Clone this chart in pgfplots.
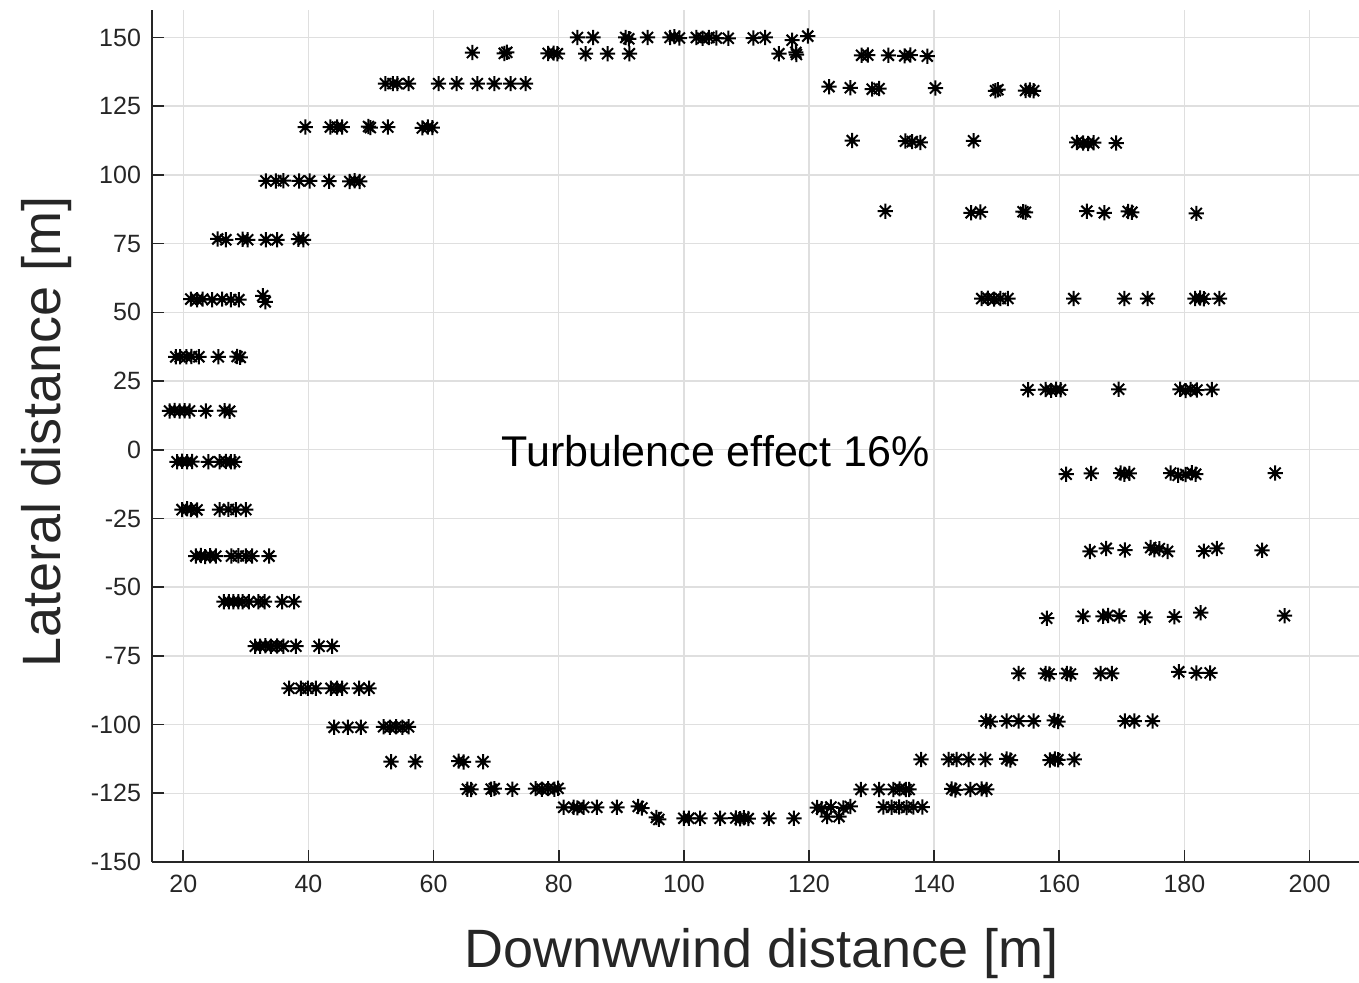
\documentclass[border=0pt]{standalone}
\usepackage{pgfplots}
\pgfplotsset{compat=1.18}
\usepackage{fontspec}
\setmainfont{Liberation Sans}
\definecolor{axc}{RGB}{38,38,38}
\definecolor{gridc}{RGB}{223,223,223}
\pgfdeclareplotmark{mast}{%
  \pgfpathmoveto{\pgfqpoint{-\pgfplotmarksize}{0pt}}\pgfpathlineto{\pgfqpoint{\pgfplotmarksize}{0pt}}%
  \pgfpathmoveto{\pgfqpoint{0pt}{-\pgfplotmarksize}}\pgfpathlineto{\pgfqpoint{0pt}{\pgfplotmarksize}}%
  \pgfpathmoveto{\pgfqpoint{-0.72\pgfplotmarksize}{-0.72\pgfplotmarksize}}\pgfpathlineto{\pgfqpoint{0.72\pgfplotmarksize}{0.72\pgfplotmarksize}}%
  \pgfpathmoveto{\pgfqpoint{-0.72\pgfplotmarksize}{0.72\pgfplotmarksize}}\pgfpathlineto{\pgfqpoint{0.72\pgfplotmarksize}{-0.72\pgfplotmarksize}}%
  \pgfusepathqstroke}
\begin{document}
\begin{tikzpicture}
\begin{axis}[
  scale only axis, width=603.5pt, height=426pt,
  at={(0,0)}, anchor=south west,
  xmin=15, xmax=207.9, ymin=-150, ymax=160,
  axis lines*=left,
  axis line style={color=axc, line width=0.8pt},
  tick align=inside, major tick length=6pt,
  tick style={color=axc, line width=0.8pt},
  xtick={20,40,...,200}, ytick={-150,-125,...,150},
  grid=major, major grid style={color=gridc, line width=0.7pt},
  /pgf/number format/assume math mode=true,
  ticklabel style={font=\fontsize{12.5}{15}\selectfont, color=axc},
  xticklabel style={yshift=-3pt},
  yticklabel style={xshift=-2pt},
  xlabel={Downwwind distance [m]},
  ylabel={Lateral distance [m]},
  label style={font=\fontsize{27}{32}\selectfont, color=axc},
  xlabel style={at={(axis description cs:0.505,-0.1244)}, anchor=base},
  ylabel style={at={(axis description cs:-0.0762,0.505)}, anchor=base, rotate=0},
  clip=false,
]
\addplot[only marks, mark=mast, mark size=3.8pt, mark options={line width=1.0pt, black}] table[row sep=\\] {
x y\\
83.0 150\\ 85.5 150\\ 90.7 150\\ 91.2 149.5\\ 94.2 150\\ 97.8 150\\ 98.5 150.3\\ 99.3 149.8\\ 102.0 150\\ 103.0 149.7\\ 104.0 150\\ 105.2 149.8\\ 107.1 149.7\\ 111.1 149.8\\ 113.0 150\\ 117.3 149\\ 119.8 150.5\\
66.2 144.5\\ 71.3 144.2\\ 71.7 144.6\\ 78.3 144.2\\ 79.2 144.3\\ 79.8 144.1\\ 84.3 144.1\\ 87.8 144.1\\ 91.3 144.1\\ 115.2 144.1\\ 117.9 144.6\\ 118.0 143.8\\
128.4 143.5\\ 129.4 143.6\\ 132.7 143.5\\ 135.3 143.3\\ 136.2 143.6\\ 138.9 143.2\\
52.3 133.2\\ 53.5 133.2\\ 54.2 133.2\\ 56.0 133.2\\ 60.8 133.2\\ 63.7 133.2\\ 67.0 133.2\\ 69.7 133.2\\ 72.3 133.2\\ 74.7 133.2\\
123.2 132.1\\ 126.6 131.7\\ 130.1 131.2\\ 131.2 131.4\\ 140.2 131.6\\ 149.8 130.6\\ 150.2 131.0\\ 154.6 130.7\\ 155.3 130.9\\ 155.9 130.6\\
39.5 117.4\\ 43.5 117.4\\ 44.6 117.4\\ 45.4 117.4\\ 49.6 117.6\\ 49.9 117.2\\ 52.7 117.4\\ 58.2 117.1\\ 59.1 117.4\\ 59.8 117.2\\
126.9 112.5\\ 135.4 112.3\\ 136.5 112.1\\ 137.8 111.8\\ 146.3 112.4\\ 162.8 111.8\\ 163.8 111.6\\ 164.6 111.4\\ 165.5 111.7\\ 169.1 111.6\\
33.2 97.8\\ 34.8 97.8\\ 36.0 97.9\\ 38.5 97.8\\ 40.2 97.8\\ 43.3 97.7\\ 46.6 97.6\\ 47.4 97.9\\ 48.2 97.6\\
132.2 86.8\\ 145.9 86.2\\ 147.4 86.5\\ 154.2 86.6\\ 154.6 86.4\\ 164.4 86.8\\ 167.2 86.2\\ 171.0 86.7\\ 171.6 86.4\\ 181.9 86.0\\
25.5 76.7\\ 26.8 76.4\\ 29.5 76.6\\ 30.3 76.4\\ 33.2 76.4\\ 35.0 76.4\\ 38.4 76.6\\ 39.2 76.4\\
21.2 54.8\\ 22.2 54.6\\ 23.1 54.8\\ 24.6 54.6\\ 26.2 54.8\\ 27.6 54.6\\ 28.9 54.6\\ 32.7 56.0\\ 33.1 53.8\\
147.6 55.0\\ 148.6 55.1\\ 149.6 54.8\\ 150.6 55.0\\ 151.8 55.0\\ 162.3 55.0\\ 170.4 55.0\\ 174.1 55.0\\ 181.7 55.0\\ 182.5 55.2\\ 183.1 54.9\\ 185.6 55.0\\
18.8 33.8\\ 19.5 33.8\\ 20.5 33.8\\ 21.3 33.9\\ 22.5 33.8\\ 25.6 33.8\\ 28.6 33.9\\ 29.1 33.6\\
155.0 21.8\\ 157.8 21.9\\ 158.7 21.6\\ 159.5 22.0\\ 160.2 21.8\\ 169.5 22.0\\ 179.3 22.0\\ 180.2 21.5\\ 181.0 21.9\\ 182.0 21.7\\ 184.4 21.9\\
17.8 14.1\\ 18.6 14.3\\ 19.4 14.1\\ 20.2 14.2\\ 21.0 14.1\\ 23.6 14.1\\ 26.6 14.2\\ 27.4 14.0\\
19.0 -4.4\\ 19.8 -4.2\\ 20.6 -4.4\\ 21.4 -4.3\\ 24.0 -4.4\\ 25.8 -4.4\\ 26.8 -4.3\\ 27.6 -4.4\\ 28.2 -4.4\\
19.8 -21.8\\ 20.6 -21.5\\ 21.2 -21.8\\ 22.2 -21.9\\ 25.8 -21.8\\ 27.2 -21.7\\ 28.4 -21.8\\ 30.0 -21.8\\
22.0 -38.7\\ 22.8 -38.5\\ 23.5 -38.9\\ 24.3 -38.6\\ 25.2 -38.7\\ 27.7 -38.7\\ 28.8 -38.6\\ 30.0 -38.7\\ 31.0 -38.7\\ 33.7 -38.7\\
161.1 -8.9\\ 165.1 -8.6\\ 169.8 -8.5\\ 170.4 -8.9\\ 171.2 -8.6\\ 177.8 -8.5\\ 179.0 -9.3\\ 180.2 -9.0\\ 181.2 -8.4\\ 181.8 -8.9\\ 194.5 -8.5\\
164.9 -37.0\\ 167.5 -35.9\\ 170.5 -36.5\\ 174.6 -35.6\\ 175.2 -36.4\\ 176.0 -36.0\\ 177.3 -37.0\\ 183.1 -36.9\\ 185.2 -35.9\\ 192.4 -36.6\\
158.0 -61.3\\ 163.8 -60.6\\ 167.0 -60.6\\ 167.8 -60.3\\ 169.6 -60.5\\ 173.7 -61.0\\ 178.4 -60.8\\ 182.6 -59.3\\ 196.0 -60.4\\
26.5 -55.3\\ 27.3 -55.3\\ 28.0 -55.3\\ 28.8 -55.3\\ 29.5 -55.3\\ 30.5 -55.3\\ 32.0 -55.3\\ 33.0 -55.3\\ 35.8 -55.3\\ 37.7 -55.3\\
31.5 -71.5\\ 32.3 -71.5\\ 33.1 -71.3\\ 34.0 -71.5\\ 35.0 -71.4\\ 36.0 -71.5\\ 38.0 -71.5\\ 41.7 -71.5\\ 43.8 -71.5\\
36.9 -86.8\\ 38.8 -86.8\\ 39.9 -86.8\\ 41.2 -86.8\\ 43.6 -86.8\\ 44.6 -86.8\\ 45.4 -86.8\\ 48.1 -86.8\\ 49.7 -86.8\\
44.1 -101.0\\ 46.3 -101.0\\ 48.4 -101.0\\ 52.0 -100.8\\ 53.0 -101.0\\ 54.0 -100.8\\ 55.0 -101.0\\ 56.0 -100.8\\
53.2 -113.5\\ 57.1 -113.5\\ 64.0 -113.3\\ 64.8 -113.6\\ 67.9 -113.5\\
65.4 -123.5\\ 66.0 -123.6\\ 69.2 -123.5\\ 69.7 -123.3\\ 72.6 -123.5\\ 76.3 -123.3\\ 77.3 -123.5\\ 78.3 -123.3\\ 79.3 -123.5\\ 79.9 -123.2\\
80.8 -130.1\\ 82.4 -130.1\\ 83.0 -130.3\\ 84.0 -130.1\\ 86.1 -130.1\\ 89.3 -130.1\\ 92.7 -129.8\\ 93.3 -130.4\\
95.6 -133.8\\ 96.0 -134.5\\ 100.0 -134.1\\ 100.8 -134.1\\ 102.6 -134.1\\ 105.8 -134.1\\ 108.3 -134.0\\ 109.0 -134.3\\ 109.6 -133.9\\ 110.3 -134.2\\ 113.6 -134.1\\ 117.6 -134.1\\
121.3 -130.2\\ 122.0 -130.6\\ 123.5 -130.0\\ 125.5 -130.3\\ 126.6 -129.8\\ 122.9 -133.5\\ 124.8 -133.5\\
131.9 -130.0\\ 133.2 -130.1\\ 134.4 -130.0\\ 135.6 -130.2\\ 136.7 -130.0\\ 138.1 -130.0\\
128.3 -123.6\\ 131.2 -123.6\\ 133.5 -123.6\\ 134.5 -123.4\\ 135.5 -123.6\\ 136.0 -123.6\\ 142.8 -123.4\\ 143.4 -123.8\\ 145.8 -123.6\\ 147.6 -123.4\\ 148.4 -123.6\\
137.9 -112.7\\ 142.3 -112.7\\ 143.6 -112.7\\ 145.5 -112.7\\ 148.2 -112.7\\ 151.6 -112.5\\ 152.2 -112.9\\ 158.5 -112.9\\ 159.3 -112.5\\ 159.8 -112.8\\ 162.4 -112.7\\
148.3 -98.7\\ 149.0 -98.9\\ 151.6 -98.7\\ 153.5 -98.7\\ 155.9 -98.7\\ 159.2 -98.5\\ 159.8 -98.9\\ 170.5 -98.7\\ 172.0 -98.7\\ 174.9 -98.7\\
153.5 -81.4\\ 157.8 -81.4\\ 158.4 -81.6\\ 161.2 -81.4\\ 161.8 -81.6\\ 166.6 -81.4\\ 168.4 -81.4\\ 179.1 -80.8\\ 181.9 -81.2\\ 184.1 -81.2\\
};
\node[anchor=base, font=\fontsize{21.5}{26}\selectfont, text=black, inner sep=0pt] at (axis cs:105.05,-6) {Turbulence effect 16\%};
\end{axis}
\pgfresetboundingbox
\path[use as bounding box] (-76pt,-60.5pt) rectangle (603.5pt,431pt);
\end{tikzpicture}
\end{document}
